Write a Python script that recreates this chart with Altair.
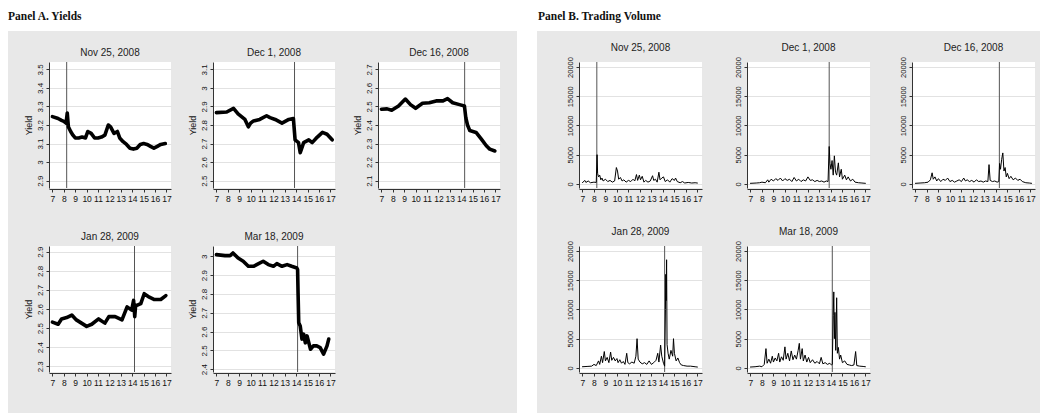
import altair as alt
import pandas as pd

# ---------------- data ----------------
HOUR_TICKS = [7, 8, 9, 10, 11, 12, 13, 14, 15, 16, 17]
X_DOMAIN = [6.7, 17.4]

dates = ["Nov 25, 2008", "Dec 1, 2008", "Dec 16, 2008", "Jan 28, 2009", "Mar 18, 2009"]
event_hours_yield = [8.25, 13.85, 14.3, 14.2, 14.12]
event_hours_volume = [8.25, 13.85, 14.3, 14.15, 14.12]

# Panel A: yields (hour, yield)
nov25_yield = [(7.0, 3.245), (7.5, 3.235), (7.8, 3.225), (8.0, 3.22), (8.2, 3.21), (8.3, 3.265),
               (8.4, 3.19), (8.6, 3.165), (8.8, 3.145), (9.0, 3.13), (9.3, 3.13), (9.6, 3.135),
               (9.9, 3.13), (10.1, 3.165), (10.4, 3.155), (10.7, 3.13), (11.0, 3.13), (11.3, 3.135),
               (11.6, 3.145), (11.9, 3.2), (12.1, 3.19), (12.4, 3.155), (12.7, 3.165), (12.9, 3.13),
               (13.2, 3.11), (13.5, 3.095), (13.8, 3.075), (14.1, 3.07), (14.4, 3.075), (14.7, 3.095),
               (15.0, 3.1), (15.3, 3.095), (15.6, 3.085), (15.9, 3.075), (16.2, 3.085), (16.5, 3.095),
               (16.9, 3.1)]
dec1_yield = [(7.0, 2.867), (7.9, 2.87), (8.5, 2.89), (8.9, 2.86), (9.5, 2.83), (9.8, 2.79),
              (10.0, 2.81), (10.25, 2.822), (10.8, 2.83), (11.4, 2.85), (11.7, 2.84), (12.15, 2.83),
              (12.75, 2.81), (13.35, 2.83), (13.75, 2.835), (13.9, 2.72), (14.2, 2.705), (14.35, 2.65),
              (14.65, 2.705), (15.1, 2.72), (15.4, 2.705), (15.85, 2.735), (16.3, 2.76), (16.7, 2.75),
              (17.15, 2.72)]
dec16_yield = [(7.0, 2.485), (7.5, 2.487), (7.9, 2.48), (8.5, 2.503), (9.1, 2.54), (9.55, 2.51),
               (10.0, 2.49), (10.6, 2.517), (11.2, 2.52), (11.8, 2.53), (12.4, 2.53), (12.8, 2.542),
               (13.25, 2.52), (13.85, 2.51), (14.28, 2.503), (14.4, 2.44), (14.55, 2.4), (14.75, 2.37),
               (15.3, 2.36), (15.75, 2.325), (16.2, 2.288), (16.5, 2.27), (16.95, 2.26)]
jan28_yield = [(7.0, 2.531), (7.5, 2.52), (7.8, 2.548), (8.25, 2.555), (8.7, 2.568), (9.1, 2.543),
               (9.55, 2.526), (10.0, 2.509), (10.45, 2.52), (11.05, 2.548), (11.6, 2.526), (11.95, 2.56),
               (12.5, 2.56), (13.1, 2.543), (13.55, 2.611), (13.95, 2.594), (14.12, 2.645), (14.22, 2.56),
               (14.3, 2.62), (14.45, 2.62), (14.75, 2.628), (15.05, 2.68), (15.5, 2.662), (15.9, 2.65),
               (16.5, 2.65), (16.95, 2.67)]
mar18_yield = [(7.0, 3.009), (7.75, 3.004), (8.2, 3.004), (8.45, 3.018), (8.9, 2.991), (9.35, 2.974),
               (9.8, 2.947), (10.25, 2.947), (10.7, 2.961), (11.1, 2.974), (11.55, 2.956), (12.0, 2.947),
               (12.3, 2.961), (12.75, 2.947), (13.2, 2.956), (13.6, 2.947), (14.05, 2.938), (14.12, 2.93),
               (14.16, 2.806), (14.22, 2.647), (14.35, 2.63), (14.5, 2.56), (14.65, 2.586), (14.8, 2.54),
               (14.95, 2.577), (15.25, 2.506), (15.5, 2.524), (15.8, 2.524), (16.1, 2.515), (16.4, 2.48),
               (16.7, 2.524), (16.85, 2.56)]

yield_domains = [[2.86, 3.54], [2.46, 3.14], [2.06, 2.74], [2.27, 2.93], [2.385, 3.055]]
yield_ticks = [[2.9, 3.0, 3.1, 3.2, 3.3, 3.4, 3.5],
               [2.5, 2.6, 2.7, 2.8, 2.9, 3.0, 3.1],
               [2.1, 2.2, 2.3, 2.4, 2.5, 2.6, 2.7],
               [2.3, 2.4, 2.5, 2.6, 2.7, 2.8, 2.9],
               [2.4, 2.5, 2.6, 2.7, 2.8, 2.9, 3.0]]

# Panel B: trading volume (hour, volume)
nov25_volume = [(7.0, 200), (7.2, 600), (7.3, 250), (7.5, 500), (7.7, 200), (8.0, 300), (8.2, 250),
                (8.27, 5000), (8.32, 1800), (8.4, 1200), (8.5, 1500), (8.6, 700), (8.7, 1000), (8.8, 500),
                (9.0, 800), (9.2, 400), (9.4, 600), (9.6, 300), (9.8, 500), (9.95, 2800), (10.05, 2200),
                (10.15, 800), (10.3, 1100), (10.45, 500), (10.6, 700), (10.8, 300), (11.0, 600), (11.2, 400),
                (11.4, 800), (11.55, 500), (11.7, 1600), (11.8, 600), (11.95, 1500), (12.05, 700),
                (12.2, 1300), (12.35, 300), (12.5, 600), (12.7, 300), (12.9, 500), (13.1, 1400), (13.2, 600),
                (13.35, 800), (13.5, 300), (13.65, 2000), (13.75, 700), (13.9, 1000), (14.05, 1200),
                (14.2, 400), (14.4, 700), (14.6, 300), (14.8, 900), (15.0, 600), (15.1, 1000), (15.25, 400),
                (15.5, 200), (15.7, 400), (15.9, 150), (16.2, 250), (16.5, 150), (16.8, 200), (17.0, 150)]
dec1_volume = [(7.0, 100), (7.5, 150), (7.8, 200), (8.0, 300), (8.3, 200), (8.5, 700), (8.6, 300),
               (8.8, 800), (9.0, 500), (9.2, 900), (9.4, 600), (9.6, 1000), (9.8, 500), (10.0, 900),
               (10.2, 600), (10.4, 800), (10.6, 400), (10.8, 1100), (11.0, 500), (11.2, 800), (11.4, 400),
               (11.6, 700), (11.8, 500), (12.0, 1200), (12.2, 600), (12.4, 700), (12.6, 400), (12.8, 600),
               (13.0, 400), (13.2, 500), (13.4, 300), (13.6, 500), (13.75, 400), (13.85, 6400),
               (13.92, 3500), (14.0, 2500), (14.1, 4000), (14.2, 1500), (14.3, 4800), (14.4, 2000),
               (14.5, 1500), (14.65, 3600), (14.75, 1200), (14.9, 2500), (15.0, 800), (15.2, 1500),
               (15.35, 700), (15.5, 1200), (15.7, 500), (15.9, 800), (16.1, 300), (16.4, 200), (16.7, 150),
               (17.0, 100)]
dec16_volume = [(7.0, 100), (7.4, 150), (7.8, 200), (8.1, 300), (8.3, 700), (8.45, 1900), (8.55, 800),
                (8.7, 1200), (8.85, 500), (9.0, 900), (9.2, 400), (9.4, 800), (9.6, 600), (9.8, 1000),
                (10.0, 400), (10.2, 600), (10.4, 300), (10.6, 500), (10.8, 700), (11.0, 400), (11.2, 1000),
                (11.35, 500), (11.5, 700), (11.7, 400), (11.9, 600), (12.1, 300), (12.3, 700), (12.5, 400),
                (12.7, 500), (12.9, 300), (13.1, 500), (13.3, 400), (13.4, 3300), (13.5, 600), (13.7, 400),
                (13.9, 500), (14.1, 300), (14.25, 400), (14.32, 3500), (14.4, 2500), (14.5, 4200),
                (14.6, 5300), (14.7, 2200), (14.8, 2800), (14.9, 1200), (15.0, 1800), (15.15, 900),
                (15.3, 1300), (15.5, 700), (15.7, 1000), (15.9, 600), (16.1, 800), (16.3, 400), (16.6, 200),
                (16.9, 150), (17.1, 100)]
jan28_volume = [(7.0, 200), (7.4, 250), (7.8, 300), (8.0, 600), (8.2, 400), (8.4, 1200), (8.5, 600),
                (8.65, 2000), (8.75, 900), (8.9, 2800), (9.0, 1200), (9.15, 1800), (9.3, 900), (9.45, 2700),
                (9.55, 1300), (9.7, 1800), (9.85, 1200), (10.0, 1600), (10.1, 900), (10.25, 1400),
                (10.4, 800), (10.55, 1100), (10.7, 600), (10.85, 2500), (10.95, 900), (11.1, 700),
                (11.3, 1000), (11.5, 800), (11.65, 2000), (11.75, 5000), (11.85, 1500), (12.0, 1000),
                (12.2, 700), (12.4, 900), (12.6, 600), (12.8, 1200), (13.0, 600), (13.2, 900), (13.4, 1300),
                (13.55, 2500), (13.65, 1000), (13.8, 3900), (13.9, 2000), (14.05, 800), (14.15, 300),
                (14.22, 10000), (14.25, 16000), (14.28, 11500), (14.32, 18500), (14.36, 4000),
                (14.45, 2500), (14.55, 1500), (14.7, 3000), (14.85, 2000), (14.92, 5000), (15.0, 2500),
                (15.15, 1200), (15.3, 1700), (15.45, 900), (15.6, 500), (15.8, 400), (16.1, 300),
                (16.4, 300), (16.8, 200), (17.0, 150)]
mar18_volume = [(7.0, 150), (7.4, 200), (7.8, 300), (8.0, 200), (8.2, 600), (8.35, 3300), (8.45, 800),
                (8.6, 1500), (8.75, 800), (8.9, 2000), (9.0, 1000), (9.15, 1700), (9.3, 1200), (9.45, 2500),
                (9.55, 1000), (9.7, 1900), (9.85, 1300), (10.0, 3600), (10.1, 1500), (10.25, 2500),
                (10.4, 1200), (10.55, 2900), (10.7, 1400), (10.85, 2200), (11.0, 1500), (11.15, 3000),
                (11.25, 4200), (11.35, 1500), (11.5, 3300), (11.6, 1200), (11.75, 2200), (11.9, 1000),
                (12.05, 1800), (12.2, 900), (12.4, 1400), (12.6, 800), (12.8, 1100), (13.0, 700),
                (13.15, 1800), (13.3, 700), (13.5, 900), (13.7, 600), (13.9, 800), (14.05, 500),
                (14.12, 600), (14.2, 9000), (14.25, 13000), (14.3, 5000), (14.35, 9500), (14.42, 3000),
                (14.5, 12000), (14.56, 2500), (14.65, 3500), (14.75, 1500), (14.85, 2200), (15.0, 900),
                (15.2, 1200), (15.4, 600), (15.6, 500), (15.8, 400), (16.0, 500), (16.15, 2800),
                (16.25, 400), (16.5, 300), (16.8, 250), (17.0, 200)]

volume_domain = [-700, 20850]
volume_ticks = [0, 5000, 10000, 15000, 20000]

yield_series = [nov25_yield, dec1_yield, dec16_yield, jan28_yield, mar18_yield]
volume_series = [nov25_volume, dec1_volume, dec16_volume, jan28_volume, mar18_volume]

# ---------------- styling ----------------
GRAY = "#e8e8e8"
SANS = "Liberation Sans"
SERIF = "Liberation Serif"

dummy = pd.DataFrame({"d": [0]})


def cell(w, h, fill=""):
    # an empty, invisible mark placed in the middle of the cell (keeps layout bounds tight)
    c = alt.Chart(dummy).mark_point(opacity=0, size=1).encode(
        x=alt.value(w / 2), y=alt.value(h / 2))
    if fill:
        return c.properties(width=w, height=h, view=alt.ViewBackground(fill=fill, strokeWidth=0))
    return c.properties(width=w, height=h)


def title_cell(w, h, labels, xs):
    df = pd.DataFrame({"t": labels, "px": xs})
    return alt.Chart(df).mark_text(
        align="left", baseline="alphabetic", font=SERIF, fontWeight="bold",
        fontSize=11.5, color="#111"
    ).encode(x=alt.X("px:Q", scale=None), y=alt.value(20), text="t:N").properties(
        width=w, height=h, view=alt.ViewBackground(fill="white", strokeWidth=0))


def subplot(title, pairs, event, ydom, yticks, yfmt, ytitle, w, h, lw, ylabsize):
    df = pd.DataFrame(pairs, columns=["hour", "val"])
    x = alt.X("hour:Q", scale=alt.Scale(domain=X_DOMAIN, nice=False, zero=False),
              axis=alt.Axis(values=HOUR_TICKS, title=None, labelFontSize=8.5, labelColor="#111",
                            tickSize=3, tickColor="#333", domainColor="#333", labelPadding=2,
                            grid=False, labelOverlap=False, labelFlush=False, offset=1))
    yaxis_kw = dict(values=yticks, format=yfmt, labelAngle=270, labelAlign="center",
                    labelBaseline="bottom", labelFontSize=ylabsize, labelColor="#111",
                    tickSize=3, tickColor="#333", domainColor="#333", labelPadding=2,
                    grid=True, gridColor="#e2e2e2", gridWidth=1,
                    labelOverlap=False, labelFlush=False)
    if ytitle:
        yaxis = alt.Axis(title=ytitle, titleFontSize=9, titleFontWeight="normal",
                         titleColor="#111", titlePadding=3, **yaxis_kw)
    else:
        yaxis = alt.Axis(title=None, **yaxis_kw)
    y = alt.Y("val:Q", scale=alt.Scale(domain=ydom, nice=False, zero=False), axis=yaxis)
    rule = alt.Chart(pd.DataFrame({"hour": [event]})).mark_rule(
        color="#555", strokeWidth=1).encode(x=x)
    line = alt.Chart(df).mark_line(color="black", strokeWidth=lw, strokeJoin="round",
                                   strokeCap="round").encode(x=x, y=y)
    return alt.layer(rule, line).properties(
        width=w, height=h,
        title=alt.TitleParams(text=title, fontSize=10, font=SANS, fontWeight="normal",
                              color="#222", offset=4, anchor="middle"),
        view=alt.ViewBackground(fill="white", strokeWidth=0),
    )


# ---------------- layout grid ----------------
col_spec = [("w", 8),
            ("g", 41), ("A0", 122), ("g", 42), ("A1", 122), ("g", 43), ("A2", 122), ("g", 17),
            ("w", 20),
            ("g", 42), ("B0", 123), ("g", 45), ("B1", 123), ("g", 42), ("B2", 123), ("g", 5),
            ("w", 5)]
row_spec = [("title", 31), ("g", 31), ("P0", 126), ("g", 58), ("P1", 126), ("g", 41), ("w", 6)]

total_w = sum(w for _, w in col_spec)
last_col_x = total_w - col_spec[-1][1]

cells = []
for r_kind, rh in row_spec:
    for ci, (c_kind, cw) in enumerate(col_spec):
        if r_kind == "title":
            if ci == len(col_spec) - 1:
                cells.append(title_cell(cw, rh, ["Panel A. Yields", "Panel B. Trading Volume"],
                                        [8 - last_col_x, 538 - last_col_x]))
            else:
                cells.append(cell(cw, rh, "white"))
            continue
        if c_kind == "w" or r_kind == "w":
            cells.append(cell(cw, rh, "white"))
            continue
        if r_kind.startswith("P") and c_kind[0] in "AB":
            idx = int(r_kind[1]) * 3 + int(c_kind[1])
            if idx < 5:
                if c_kind[0] == "A":
                    cells.append(subplot(dates[idx], yield_series[idx], event_hours_yield[idx],
                                         yield_domains[idx], yield_ticks[idx], "~g", "Yield",
                                         cw, rh, 3.6, 8))
                else:
                    cells.append(subplot(dates[idx], volume_series[idx], event_hours_volume[idx],
                                         volume_domain, volume_ticks, "d", "",
                                         cw, rh, 1.0, 7.5))
                continue
        cells.append(cell(cw, rh))

chart = alt.concat(*cells, columns=len(col_spec), spacing=0, bounds="flush").properties(
    padding={"left": 0, "top": 0, "right": 0, "bottom": 0},
    background=GRAY,
).configure_view(strokeWidth=0).configure_axis(labelFont=SANS, titleFont=SANS)

chart.save("out.html", embed_options={"renderer": "svg", "actions": False})
